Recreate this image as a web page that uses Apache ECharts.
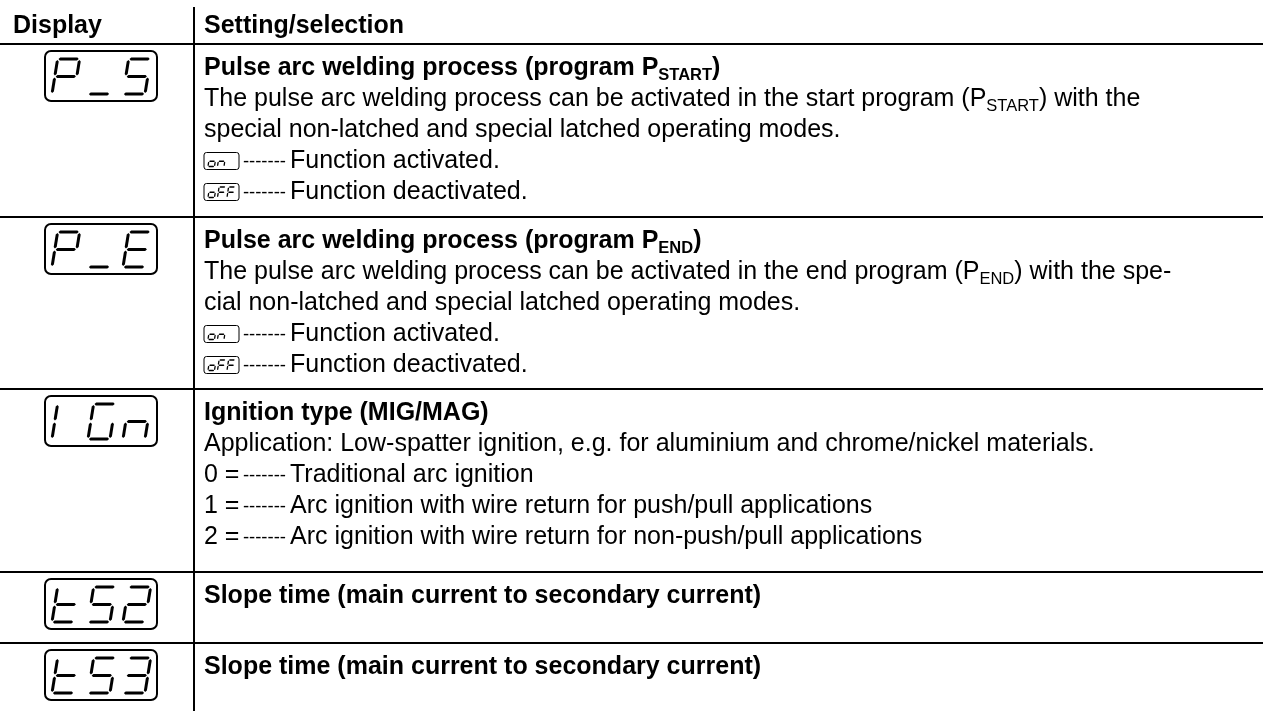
<!DOCTYPE html>
<html><head><meta charset="utf-8">
<script src="https://cdn.jsdelivr.net/npm/echarts@6/dist/echarts.min.js"></script>
<style>html,body{margin:0;padding:0;background:#fff}#c{width:1263px;height:711px}</style>
</head><body><div id="c"></div>
<script>
// ---------- data ----------
const headerLabels = ['Display', 'Setting/selection'];
const displayCodes = ['P_S', 'P_E', 'IGn', 'tS2', 'tS3'];
const rowTitles = [
  'Pulse arc welding process (program P[START])',
  'Pulse arc welding process (program P[END])',
  'Ignition type (MIG/MAG)',
  'Slope time (main current to secondary current)',
  'Slope time (main current to secondary current)'
];
const rowBodies = [
  ['The pulse arc welding process can be activated in the start program (P[START]) with the',
   'special non-latched and special latched operating modes.'],
  ['The pulse arc welding process can be activated in the end program (P[END]) with the spe-',
   'cial non-latched and special latched operating modes.'],
  ['Application: Low-spatter ignition, e.g. for aluminium and chrome/nickel materials.'],
  [],
  []
];
const optionKeys = [
  ['on', 'oFF'],
  ['on', 'oFF'],
  ['0 =', '1 =', '2 ='],
  [],
  []
];
const optionTexts = [
  ['Function activated.', 'Function deactivated.'],
  ['Function activated.', 'Function deactivated.'],
  ['Traditional arc ignition',
   'Arc ignition with wire return for push/pull applications',
   'Arc ignition with wire return for non-push/pull applications'],
  [],
  []
];
const dashText = '-------';

// ---------- layout ----------
const W = 1263, H = 711;
const FS = 25, LH = 31;
const FAM = 'Liberation Sans, Arial, sans-serif';
const rowTops = [44, 217, 389, 572, 643];
const colX = 194, textX = 204, descX = 290;

// 7-segment maps
const SEG = { P: 'abefg', _: 'd', S: 'acdfg', E: 'adefg', I: 'ef', G: 'acdef', n: 'ceg',
  t: 'defg', '2': 'abdeg', '3': 'abcdg', o: 'cdeg', F: 'aefg', ' ': '' };

function segPolys(ch, x0, yb, w, h, s, t, gap, coord) {
  const out = [];
  const m = h / 2;
  const defs = {
    a: ['h', gap, w - gap, h], d: ['h', gap, w - gap, 0], g: ['h', gap, w - gap, m],
    b: ['v', m + gap, h - gap, w], c: ['v', gap, m - gap, w],
    e: ['v', gap, m - gap, 0], f: ['v', m + gap, h - gap, 0]
  };
  const tr = (u, v) => coord([x0 + u + v * s, yb - v]);
  for (const k of (SEG[ch] || '')) {
    const d = defs[k];
    let pts;
    const ht = t / 2;
    if (d[0] === 'h') {
      const [, u1, u2, v] = d;
      pts = [[u1, v], [u1 + ht, v + ht], [u2 - ht, v + ht], [u2, v], [u2 - ht, v - ht], [u1 + ht, v - ht]];
    } else {
      const [, v1, v2, u] = d;
      pts = [[u, v1], [u + ht, v1 + ht], [u + ht, v2 - ht], [u, v2], [u - ht, v2 - ht], [u - ht, v1 + ht]];
    }
    out.push({ type: 'polygon', shape: { points: pts.map(p => tr(p[0], p[1])) }, style: { fill: '#000' } });
  }
  return out;
}

function toRich(str, bold) {
  const b = bold ? 'b' : 'r';
  return str.replace(/\[([^\]]+)\]/g, (mm, g) => '{' + b + 's|' + g + '}')
    .split(/(\{[rb]s\|[^}]*\})/).map(p => p.startsWith('{') ? p : (p ? '{' + b + '|' + p + '}' : '')).join('');
}
const RICH = {
  r: { fontSize: FS, fontFamily: FAM, fill: '#000' },
  b: { fontSize: FS, fontFamily: FAM, fontWeight: 'bold', fill: '#000' },
  rs: { fontSize: FS * 0.66, fontFamily: FAM, fill: '#000', verticalAlign: 'bottom' },
  bs: { fontSize: FS * 0.66, fontFamily: FAM, fontWeight: 'bold', fill: '#000', verticalAlign: 'bottom' }
};
function textEl(p, str, bold, align) {
  return { type: 'text', x: p[0], y: p[1],
    style: { text: toRich(str, bold), rich: RICH, align: align || 'left', verticalAlign: 'middle',
      fontSize: FS, fontFamily: FAM, fill: '#000', lineHeight: LH } };
}
function dashEl(p) {
  return { type: 'text', x: p[0], y: p[1],
    style: { text: dashText, align: 'right', verticalAlign: 'middle',
      fontSize: 18.5, fontFamily: FAM, fill: '#000' } };
}

function renderFrame(params, api) {
  const c = v => api.coord(v);
  const ch = [];
  ch.push(textEl(c([13, 26]), headerLabels[0], true));
  ch.push(textEl(c([textX, 26]), headerLabels[1], true));
  const p1 = c([colX, 7]), p2 = c([colX, H]);
  ch.push({ type: 'line', shape: { x1: p1[0], y1: p1[1], x2: p2[0], y2: p2[1] }, style: { stroke: '#000', lineWidth: 2 } });
  rowTops.forEach(y => {
    const a = c([0, y]), b = c([W, y]);
    ch.push({ type: 'line', shape: { x1: a[0], y1: a[1], x2: b[0], y2: b[1] }, style: { stroke: '#000', lineWidth: 2 } });
  });
  return { type: 'group', children: ch };
}

function renderRow(params, api) {
  const i = api.value(0);
  const T = rowTops[i];
  const c = v => api.coord(v);
  const ch = [];
  // display box
  const bx = 45, by = T + 7, bw = 112, bh = 50;
  const tl = c([bx, by]), br = c([bx + bw, by + bh]);
  ch.push({ type: 'rect', shape: { x: tl[0], y: tl[1], width: br[0] - tl[0], height: br[1] - tl[1], r: 6 },
    style: { fill: 'none', stroke: '#000', lineWidth: 2 } });
  const code = displayCodes[i];
  const cells = [52, 88, 123];
  for (let k = 0; k < code.length; k++) {
    ch.push(...segPolys(code[k], cells[k], by + 43, 22, 35, 0.16, 3.0, 0.9, c));
  }
  // title
  let y = T + 24;
  ch.push(textEl(c([textX, y]), rowTitles[i], true));
  rowBodies[i].forEach(line => { y += LH; ch.push(textEl(c([textX, y]), line, false)); });
  optionKeys[i].forEach((key, j) => {
    y += LH;
    if (key === 'on' || key === 'oFF') {
      const ib = c([textX, y - 8.5]), ie = c([textX + 35, y + 8.5]);
      ch.push({ type: 'rect', shape: { x: ib[0], y: ib[1], width: ie[0] - ib[0], height: ie[1] - ib[1], r: 2.5 },
        style: { fill: 'none', stroke: '#000', lineWidth: 1 } });
      const sc = [textX + 4, textX + 13.5, textX + 23];
      for (let k = 0; k < key.length; k++) {
        ch.push(...segPolys(key[k], sc[k], y + 5.5, 6.5, 10.5, 0.15, 1.3, 0.4, c));
      }
    } else {
      ch.push(textEl(c([textX, y]), key, false));
    }
    ch.push(dashEl(c([descX - 4, y + 0.5])));
    ch.push(textEl(c([descX, y]), optionTexts[i][j], false));
  });
  return { type: 'group', children: ch };
}

const chart = echarts.init(document.getElementById('c'), null, { renderer: 'canvas' });
chart.setOption({
  animation: false,
  backgroundColor: '#fff',
  grid: { left: 0, right: 0, top: 0, bottom: 0 },
  xAxis: { type: 'value', min: 0, max: W, show: false },
  yAxis: { type: 'value', min: 0, max: H, inverse: true, show: false },
  series: [
    { type: 'custom', renderItem: renderFrame, data: [[0]], silent: true, clip: false },
    { type: 'custom', renderItem: renderRow, data: displayCodes.map((d, i) => [i]), silent: true, clip: false }
  ]
});
</script></body></html>
